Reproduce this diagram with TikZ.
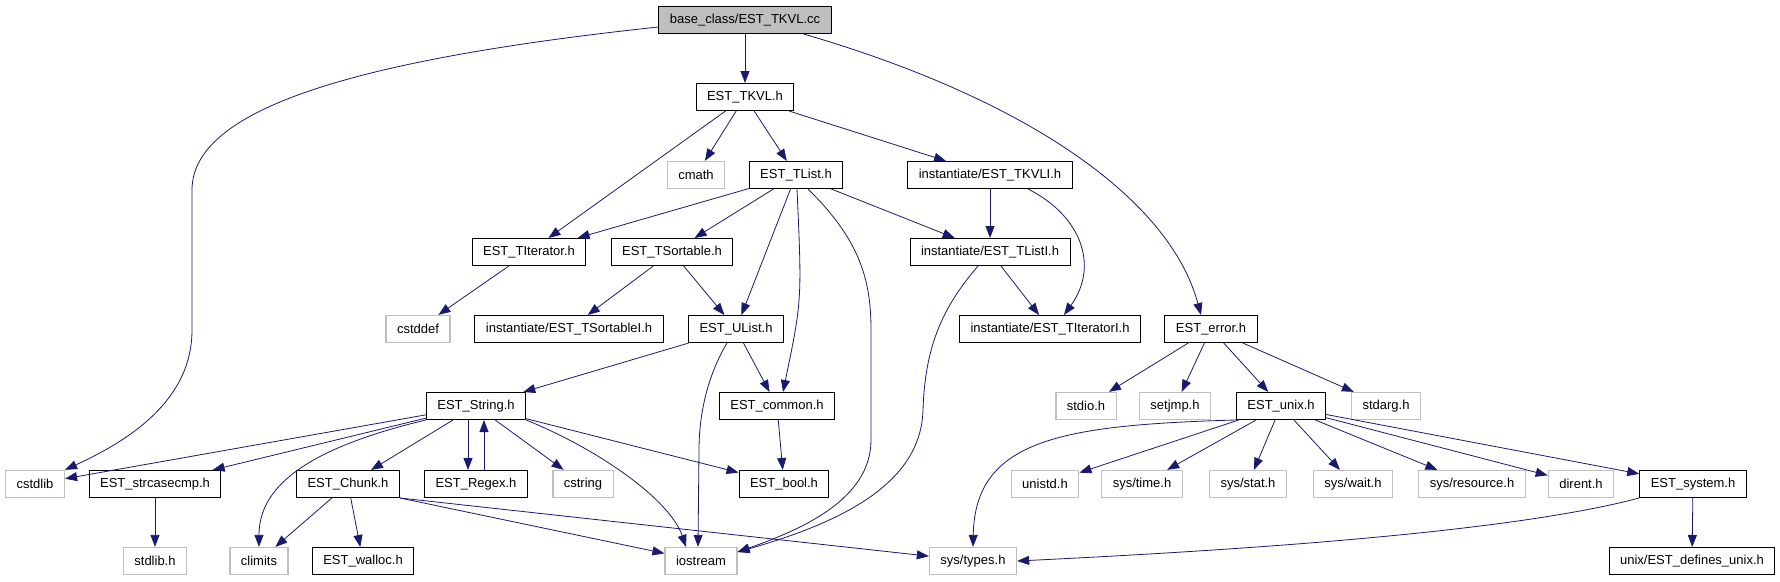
\documentclass[tikz,border=0pt]{standalone}
\usepackage{fontspec}
\setmainfont{Liberation Sans}
\usetikzlibrary{arrows.meta}

\definecolor{edgeblue}{HTML}{191970}
\definecolor{sysgray}{HTML}{BFBFBF}

\tikzset{
  file/.style={draw, line width=1pt, minimum height=27pt, inner xsep=11pt, inner ysep=0pt, font=\fontsize{13}{15}\selectfont},
  hdr/.style={file, draw=black, fill=white},
  sys/.style={file, draw=sysgray, line width=1.3pt, fill=white},
  root/.style={file, draw=black, fill=sysgray},
  inc/.style={draw=edgeblue, line width=0.8pt, -{Triangle[length=12pt,width=9pt]}}
}

\begin{document}
\begin{tikzpicture}[x=1pt, y=-1pt]
\useasboundingbox (0,0) rectangle (1780,581);

% The files
\node[root] (tkvlcc) at (745,20) {base\_class/EST\_TKVL.cc};
\node[hdr] (tkvl) at (745,97) {EST\_TKVL.h};
\node[sys] (cmath) at (696,175) {cmath};
\node[hdr] (tlist) at (796,175) {EST\_TList.h};
\node[hdr] (tkvli) at (990,175) {instantiate/EST\_TKVLI.h};
\node[hdr] (titer) at (529,252) {EST\_TIterator.h};
\node[hdr] (tsort) at (672,252) {EST\_TSortable.h};
\node[hdr] (tlisti) at (990,252) {instantiate/EST\_TListI.h};
\node[sys] (cstddef) at (418,329) {cstddef};
\node[hdr] (tsorti) at (569,329) {instantiate/EST\_TSortableI.h};
\node[hdr] (ulist) at (736,329) {EST\_UList.h};
\node[hdr] (titeri) at (1050,329) {instantiate/EST\_TIteratorI.h};
\node[hdr] (error) at (1211,329) {EST\_error.h};
\node[hdr] (string) at (476,406) {EST\_String.h};
\node[hdr] (common) at (777,406) {EST\_common.h};
\node[sys] (stdio) at (1086,406) {stdio.h};
\node[sys] (setjmp) at (1175,406) {setjmp.h};
\node[hdr] (unix) at (1281,406) {EST\_unix.h};
\node[sys] (stdarg) at (1386,406) {stdarg.h};
\node[sys] (cstdlib) at (35,484) {cstdlib};
\node[hdr] (strcase) at (155,484) {EST\_strcasecmp.h};
\node[hdr] (chunk) at (348,484) {EST\_Chunk.h};
\node[hdr] (regex) at (476,484) {EST\_Regex.h};
\node[sys] (cstring) at (583,484) {cstring};
\node[hdr] (bool) at (784,484) {EST\_bool.h};
\node[sys] (unistd) at (1045,484) {unistd.h};
\node[sys] (systime) at (1142,484) {sys/time.h};
\node[sys] (sysstat) at (1248,484) {sys/stat.h};
\node[sys] (syswait) at (1353,484) {sys/wait.h};
\node[sys] (sysres) at (1472,484) {sys/resource.h};
\node[sys] (dirent) at (1581,484) {dirent.h};
\node[hdr] (system) at (1693,484) {EST\_system.h};
\node[sys] (stdlib) at (155,561) {stdlib.h};
\node[sys] (climits) at (259,561) {climits};
\node[hdr] (walloc) at (363,561) {EST\_walloc.h};
\node[sys] (iostream) at (701,561) {iostream};
\node[sys] (systypes) at (973,561) {sys/types.h};
\node[hdr] (defunix) at (1692,561) {unix/EST\_defines\_unix.h};

% Includes of the .cc file
\draw[inc] (tkvlcc) -- (tkvl);
\draw[inc] ([yshift=-7pt]tkvlcc.west) .. controls (350,60) and (192,110) .. (192,190)
  -- (192,330) .. controls (192,400) and (130,440) .. (cstdlib.north east);
\draw[inc] ([xshift=-28pt]tkvlcc.south east) .. controls (1030,100) and (1170,200) .. ([xshift=-10pt]error.north);

% Includes of EST_TKVL.h
\draw[inc] (tkvl) -- (titer);
\draw[inc] (tkvl) -- (cmath);
\draw[inc] (tkvl) -- (tlist);
\draw[inc] (tkvl) -- (tkvli);

% Includes of EST_TList.h
\draw[inc] (tlist) -- (titer);
\draw[inc] (tlist) -- (tsort);
\draw[inc] (tlist) -- (ulist);
\draw[inc] ([xshift=1pt]tlist.south) .. controls (802,300) .. ([xshift=6pt]common.north);
\draw[inc] ([xshift=12pt]tlist.south) .. controls (860,240) and (871,280) .. (871,330)
  -- (871,440) .. controls (871,500) and (800,530) .. ([yshift=9pt]iostream.east);
\draw[inc] (tlist) -- (tlisti);

% The templates
\draw[inc] (tsort) -- (tsorti);
\draw[inc] (tsort) -- (ulist);
\draw[inc] (titer) -- (cstddef);
\draw[inc] (tkvli) -- (tlisti);
\draw[inc] ([xshift=38pt]tkvli.south) .. controls (1080,215) and (1100,265) .. ([xshift=14pt]titeri.north);
\draw[inc] (tlisti) -- (titeri);
\draw[inc] ([xshift=-12pt]tlisti.south) .. controls (940,310) and (925,350) .. (923,410)
  .. controls (921,480) and (850,520) .. ([yshift=9pt]iostream.east);

% Includes of EST_UList.h
\draw[inc] (ulist) -- (string);
\draw[inc] ([xshift=-9pt]ulist.south) .. controls (705,380) and (699,420) .. (699,450) -- ([xshift=-3pt]iostream.north);
\draw[inc] (ulist) -- (common);
\draw[inc] (common) -- (bool);

% Includes of EST_String.h
\draw[inc] (string) -- (cstdlib);
\draw[inc] (string) -- (strcase);
\draw[inc] (string.south west) .. controls (300,450) and (259,490) .. (climits.north);
\draw[inc] (string) -- (chunk);
\draw[inc] ([xshift=-8pt]string.south) -- ([xshift=-8pt]regex.north);
\draw[inc] ([xshift=8pt]regex.north) -- ([xshift=8pt]string.south);
\draw[inc] (string) -- (cstring);
\draw[inc] (string.south east) .. controls (600,450) and (670,500) .. ([xshift=-15pt]iostream.north);
\draw[inc] (string) -- (bool);
\draw[inc] (strcase) -- (stdlib);

% Includes of EST_Chunk.h
\draw[inc] (chunk) -- (climits);
\draw[inc] (chunk) -- (walloc);
\draw[inc] (chunk.south east) -- (iostream);
\draw[inc] (chunk.south east) -- (systypes);

% Includes of EST_error.h
\draw[inc] (error) -- (stdio);
\draw[inc] (error) -- (setjmp);
\draw[inc] (error) -- (unix);
\draw[inc] (error) -- (stdarg);

% Includes of EST_unix.h
\draw[inc] (unix.south west) .. controls (1060,425) and (975,440) .. (systypes.north);
\draw[inc] (unix) -- (unistd);
\draw[inc] (unix) -- (systime);
\draw[inc] (unix) -- (sysstat);
\draw[inc] (unix) -- (syswait);
\draw[inc] (unix) -- (sysres);
\draw[inc] (unix) -- (dirent);
\draw[inc] (unix) -- (system);

% Includes of EST_system.h
\draw[inc] (system.south west) .. controls (1500,535) and (1200,552) .. (systypes.east);
\draw[inc] (system) -- (defunix);

\end{tikzpicture}
\end{document}
